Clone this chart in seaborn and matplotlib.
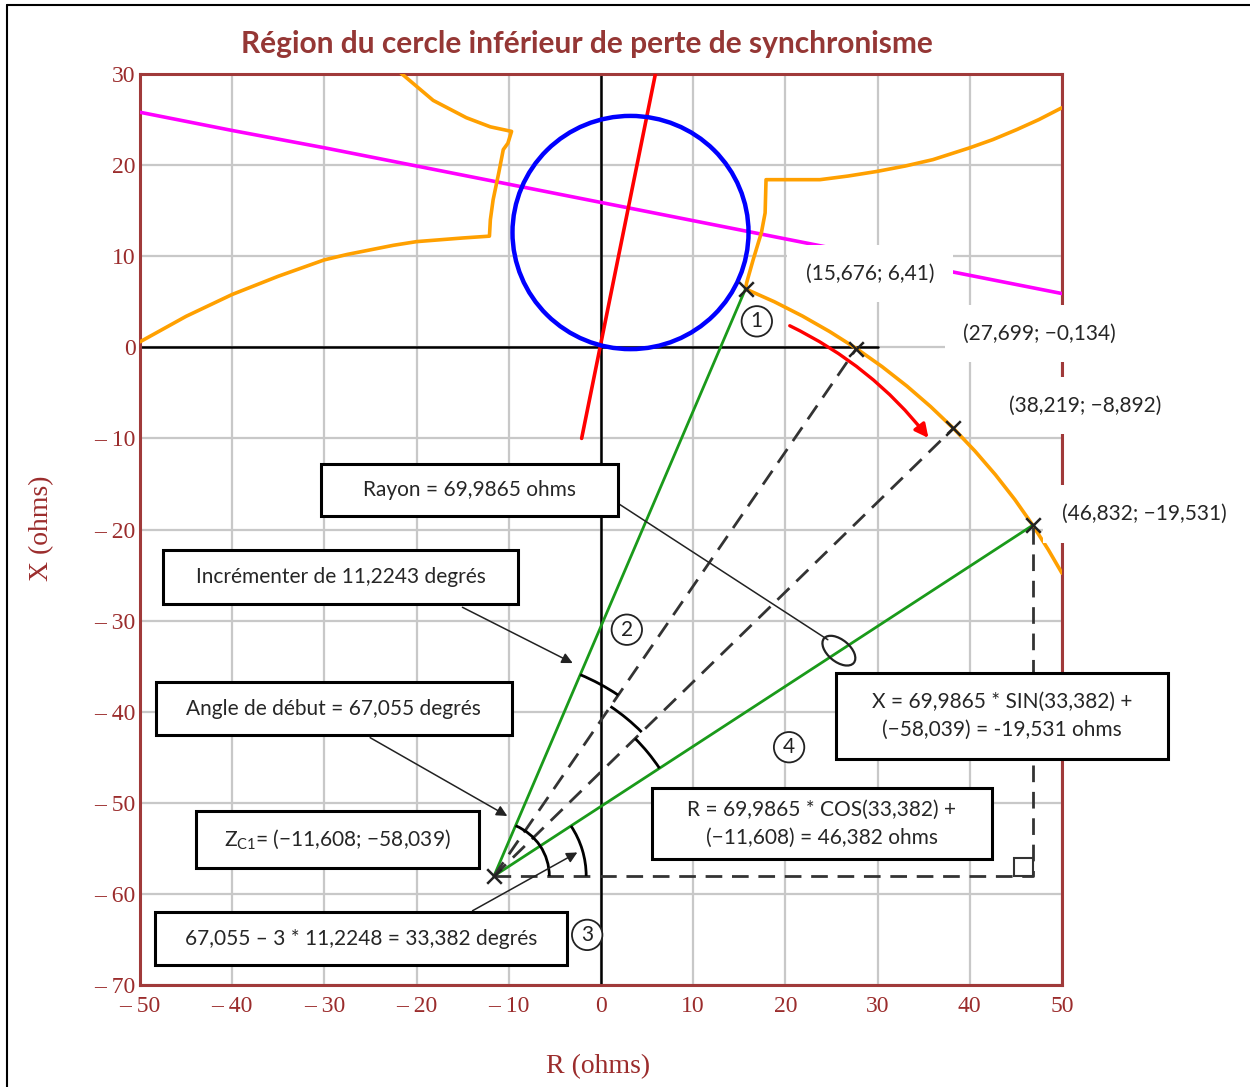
import matplotlib
matplotlib.use('Agg')
import matplotlib.pyplot as plt
import seaborn as sns
from matplotlib.patches import Circle, Arc, Rectangle, Ellipse, FancyArrowPatch
from matplotlib.lines import Line2D

# --- données ---
mag_r = [-50, -40, -30, -20, -10, 0, 10, 20, 30, 40, 50]
mag_x = [25.8, 23.8, 21.9, 19.9, 17.9, 15.9, 13.9, 11.9, 9.9, 7.9, 5.9]

red_r = [-2.1, 5.9]
red_x = [-10.0, 30.0]

circle_center = (3.2, 12.6)
circle_radius = 12.8

orange_left_r = [-50, -47.5, -45, -42.5, -40, -37.5, -35, -32.5, -30, -27.5, -25, -22.5,
                 -20, -17.5, -15, -12.1, -12.0, -11.7, -11.1, -10.6, -10.1, -9.7,
                 -12.0, -14.6, -18.2, -21.7]
orange_left_x = [0.6, 2.0, 3.4, 4.6, 5.8, 6.8, 7.8, 8.7, 9.6, 10.2, 10.7, 11.2,
                 11.6, 11.8, 12.0, 12.2, 14.0, 16.2, 19.1, 21.7, 22.4, 23.7,
                 24.2, 25.2, 27.1, 30.1]

orange_right_r = [50, 47.5, 45.1, 42.5, 40, 36, 33, 29.9, 26.8, 23.75, 17.9, 17.8, 17.4,
                  16.5, 15.8, 15.676, 18.80, 21.85, 24.81, 27.699, 30.48, 33.18, 35.75,
                  38.219, 40.56, 42.78, 44.88, 46.832, 48.51, 50]
orange_right_x = [26.3, 25.0, 23.9, 22.8, 21.9, 20.6, 19.9, 19.3, 18.8, 18.4, 18.4, 14.75,
                  12.6, 9.6, 7.1, 6.41, 5.00, 3.43, 1.72, -0.134, -2.12, -4.26, -6.51,
                  -8.892, -11.39, -13.99, -16.71, -19.531, -22.21, -24.8]

zc1 = (-11.608, -58.039)
pts_r = [15.676, 27.699, 38.219, 46.832]
pts_x = [6.41, -0.134, -8.892, -19.531]
angles = [67.055, 55.831, 44.607, 33.382]

pt_labels = ['(15,676; 6,41)', '(27,699; \u22120,134)', '(38,219; \u22128,892)',
             '(46,832; \u221219,531)']

ticks = list(range(-50, 51, 10))
xtick_labels = ['\u2013 50', '\u2013 40', '\u2013 30', '\u2013 20', '\u2013 10', '0',
                '10', '20', '30', '40', '50']
yticks = list(range(-70, 31, 10))
ytick_labels = ['\u2013 70', '\u2013 60', '\u2013 50', '\u2013 40', '\u2013 30',
                '\u2013 20', '\u2013 10', '0', '10', '20', '30']

# --- style ---
sns.set_style('white')
plt.rcParams['font.family'] = ['Lato', 'DejaVu Sans']
plt.rcParams['mathtext.default'] = 'regular'

dark_red = '#9b2c2c'
spine_red = '#a03a3a'

fig = plt.figure(figsize=(12.5, 10.87), dpi=100)
ax = fig.add_axes([140 / 1250, 1 - 985 / 1087, 922 / 1250, 911 / 1087])
ax.set_xlim(-50, 50)
ax.set_ylim(-70, 30)
ax.set_xticks(ticks)
ax.set_yticks(yticks)
ax.set_xticklabels(xtick_labels, family='Liberation Serif', fontsize=17, color=dark_red)
ax.set_yticklabels(ytick_labels, family='Liberation Serif', fontsize=17, color=dark_red)
ax.tick_params(length=0)
ax.tick_params(axis='x', pad=8)
ax.tick_params(axis='y', pad=3)
ax.grid(True, color='#c8c8c8', lw=1.6)
ax.set_axisbelow(True)
for s in ax.spines.values():
    s.set_color(spine_red)
    s.set_linewidth(2.2)

# axes zéro
ax.plot([-50, 30], [0, 0], color='black', lw=1.8, zorder=2)
ax.axvline(0, color='black', lw=1.8, zorder=2)

# courbes
sns.lineplot(x=mag_r, y=mag_x, sort=False, estimator=None, color='#ff00ff', lw=2.6, ax=ax, zorder=3)
sns.lineplot(x=red_r, y=red_x, sort=False, estimator=None, color='red', lw=2.6, ax=ax, zorder=4)
ax.add_patch(Circle(circle_center, circle_radius, fill=False, ec='blue', lw=3.2, zorder=4))
sns.lineplot(x=orange_left_r, y=orange_left_x, sort=False, estimator=None, color='#ffa000',
             lw=2.6, ax=ax, zorder=5)
sns.lineplot(x=orange_right_r, y=orange_right_x, sort=False, estimator=None, color='#ffa000',
             lw=2.6, ax=ax, zorder=5)

# construction
for i in [0, 3]:
    ax.plot([zc1[0], pts_r[i]], [zc1[1], pts_x[i]], color='#1a9a1a', lw=2.0, zorder=6)
for i in [1, 2]:
    ax.plot([zc1[0], pts_r[i]], [zc1[1], pts_x[i]], color='#333333', lw=2.0,
            dashes=(6, 3.5), zorder=6)
ax.plot([zc1[0], pts_r[3], pts_r[3]], [zc1[1], zc1[1], pts_x[3]], color='#333333', lw=2.0,
        dashes=(6, 3.5), zorder=6)
ax.add_patch(Rectangle((pts_r[3] - 2, zc1[1]), 2, 2, fill=False, ec='#333333', lw=1.5, zorder=6))
ax.scatter([zc1[0]] + pts_r, [zc1[1]] + pts_x, marker='x', s=110, color='#222222',
           linewidths=1.8, zorder=7)

# arcs d'angle
ax.add_patch(Arc(zc1, 12, 12, theta1=0, theta2=angles[0], color='black', lw=2, zorder=6))
ax.add_patch(Arc(zc1, 20, 20, theta1=0, theta2=angles[3], color='black', lw=2, zorder=6))
for r, a1, a2 in [(24, angles[1], angles[0]), (22.5, angles[2], angles[1]),
                  (21.5, angles[3], angles[2])]:
    ax.add_patch(Arc(zc1, 2 * r, 2 * r, theta1=a1, theta2=a2, color='black', lw=2, zorder=6))

# flèche rouge
ax.add_patch(FancyArrowPatch((20.2, 2.5), (35.7, -10.2), connectionstyle='arc3,rad=-0.12',
                             arrowstyle='-|>', mutation_scale=20, color='red', lw=2.4, zorder=7))

# étiquettes des points
lab_pos = [(29.2, 8.1), (47.6, 1.5), (52.5, -6.4), (58.9, -18.3)]
for (x, y), s in zip(lab_pos, pt_labels):
    ax.text(x, y, s, ha='center', va='center', fontsize=15, clip_on=False, zorder=8,
            bbox=dict(boxstyle='square,pad=0.9', fc='white', ec='none'))

# numéros cerclés
for (x, y), s in zip([(16.9, 2.85), (2.8, -31.0), (-1.5, -64.5), (20.4, -43.9)],
                     ['1', '2', '3', '4']):
    ax.text(x, y, s, ha='center', va='center', fontsize=15, color='#222222', zorder=8,
            bbox=dict(boxstyle='circle,pad=0.25', fc='white', ec='#222222', lw=1.3))

# boîtes de texte
boxes = [
    ((-30.4, -18.5, 32.2, 5.7), 'Rayon = 69,9865 ohms'),
    ((-47.5, -28.2, 38.5, 5.9), 'Incr\u00e9menter de 11,2243 degr\u00e9s'),
    ((-48.3, -42.6, 38.6, 5.9), 'Angle de d\u00e9but = 67,055 degr\u00e9s'),
    ((-43.9, -57.2, 30.7, 6.3), 'Z$_{C1}$= (\u221211,608; \u221258,039)'),
    ((-48.4, -67.8, 44.7, 5.8), '67,055 \u2013 3 * 11,2248 = 33,382 degr\u00e9s'),
    ((25.5, -45.2, 36.0, 9.5), 'X = 69,9865 * SIN(33,382) +\n(\u221258,039) = -19,531 ohms'),
    ((5.5, -56.2, 36.9, 7.8), 'R = 69,9865 * COS(33,382) +\n(\u221211,608) = 46,382 ohms'),
]
for (x0, y0, w, h), s in boxes:
    ax.add_patch(Rectangle((x0, y0), w, h, fc='white', ec='black', lw=2.2, zorder=9,
                           clip_on=False))
    ax.text(x0 + w / 2, y0 + h / 2, s, ha='center', va='center', fontsize=15,
            linespacing=1.5, zorder=10, clip_on=False)

# traits et flèches des boîtes
ax.plot([1.8, 24.6], [-17.1, -32.1], color='#222222', lw=1.1, zorder=8)
ax.add_patch(Ellipse((25.8, -33.3), 4.2, 2.4, angle=-40, fill=False, ec='#222222', lw=1.6, zorder=8))
for a, b in [((-15.3, -28.4), (-2.8, -34.8)), ((-25.3, -42.7), (-9.9, -51.6)),
             ((-14.2, -62.0), (-2.3, -55.3))]:
    ax.add_patch(FancyArrowPatch(a, b, arrowstyle='-|>', mutation_scale=16, color='#222222',
                                 lw=1.1, zorder=8))

# titres
fig.text(587 / 1250, 1 - 44 / 1087, 'R\u00e9gion du cercle inf\u00e9rieur de perte de synchronisme',
         ha='center', va='center', fontsize=21.5, fontweight='bold', color='#953735')
fig.text(598 / 1250, 1 - 1067 / 1087, 'R (ohms)', ha='center', va='center',
         family='Liberation Serif', fontsize=20, color=dark_red)
fig.text(42 / 1250, 1 - 528 / 1087, 'X (ohms)', ha='center', va='center', rotation=90,
         family='Liberation Serif', fontsize=20, color=dark_red)

# cadre
fig.add_artist(Line2D([7 / 1250, 7 / 1250], [0, 1 - 5 / 1087], color='black', lw=1.5))
fig.add_artist(Line2D([7 / 1250, 1], [1 - 5 / 1087, 1 - 5 / 1087], color='black', lw=1.5))

fig.savefig('out.png', dpi=100)
